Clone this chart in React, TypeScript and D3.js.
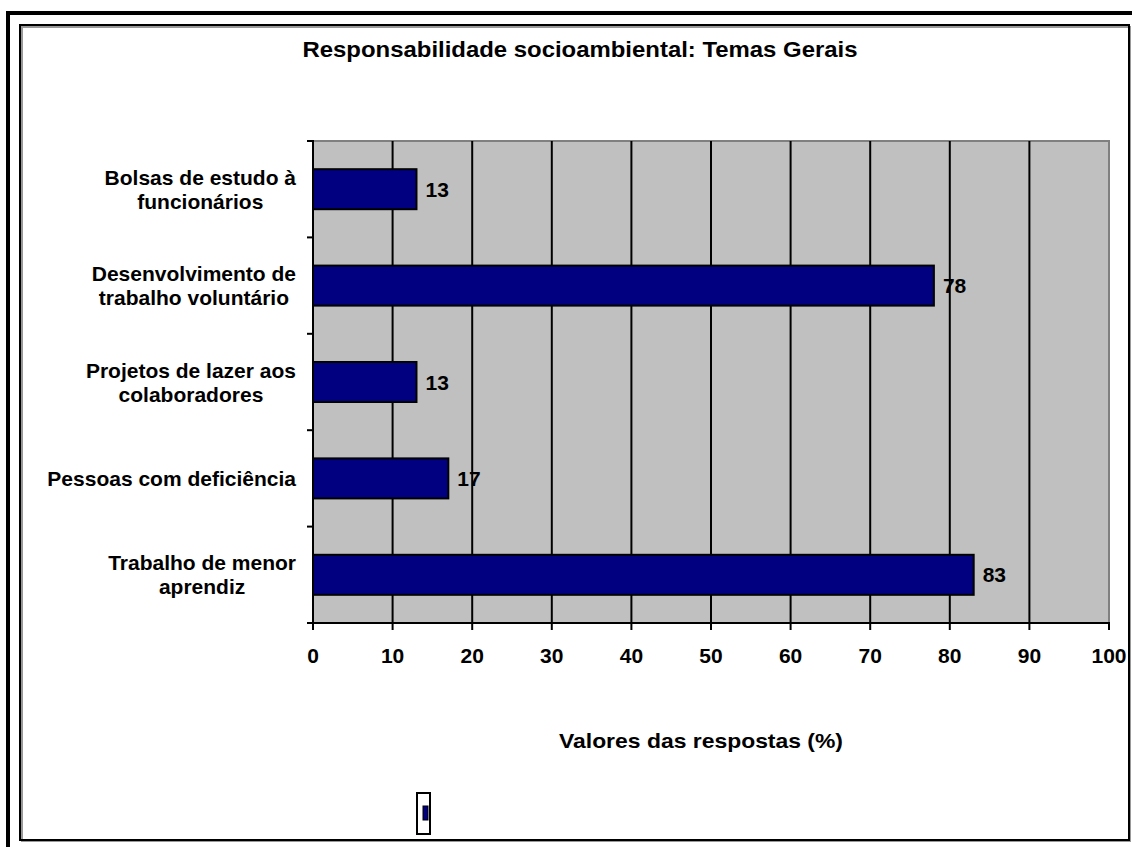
import React from 'react';
import * as d3 from 'd3';

const categories = [
  ['Bolsas de estudo à', 'funcionários'],
  ['Desenvolvimento de', 'trabalho voluntário'],
  ['Projetos de lazer aos', 'colaboradores'],
  ['Pessoas com deficiência'],
  ['Trabalho de menor', 'aprendiz'],
];
const values = [13, 78, 13, 17, 83];
const xTicks = [0, 10, 20, 30, 40, 50, 60, 70, 80, 90, 100];

const title = 'Responsabilidade socioambiental: Temas Gerais';
const xTitle = 'Valores das respostas (%)';

const FONT = "Arial, 'Liberation Sans', sans-serif";
const FS = 21;

let ctx: CanvasRenderingContext2D | null = null;
const measure = (s: string) => {
  if (!ctx) ctx = document.createElement('canvas').getContext('2d');
  if (!ctx) return s.length * FS * 0.6;
  ctx.font = `bold ${FS}px ${FONT}`;
  return ctx.measureText(s).width;
};

const App = () => {
  const left = 313, right = 1109, top = 141, bottom = 623;
  const keys = categories.map((c) => c.join(' '));
  const x = d3.scaleLinear().domain([0, 100]).range([left, right]);
  const y = d3.scaleBand().domain(keys).range([top, bottom]).paddingInner(0.585).paddingOuter(0.2925);
  const step = y.step();
  const boundaries = d3.range(keys.length + 1).map((i) => top + i * step);

  return (
    <svg width={1132} height={847} style={{ position: 'absolute', left: 0, top: 0 }} fontFamily={FONT} fontWeight="bold">
      <rect x={0} y={0} width={1132} height={847} fill="white" />
      {/* outer frame */}
      <path d="M8,847 V13 H1132" fill="none" stroke="black" strokeWidth={4} />
      {/* chart area border */}
      <rect x={21} y={26} width={1108} height={814} fill="none" stroke="#999" strokeWidth={2} transform="translate(1,1)" />
      <rect x={20} y={25} width={1109} height={815} fill="none" stroke="black" strokeWidth={2} />

      <text x={580} y={57} textAnchor="middle" fontSize={22} textLength={555} lengthAdjust="spacingAndGlyphs">{title}</text>

      {/* plot area */}
      <rect x={left} y={top} width={right - left} height={bottom - top} fill="#c0c0c0" />
      <path d={`M${left},${top} H${right} V${bottom}`} fill="none" stroke="#808080" strokeWidth={2} />
      {xTicks.slice(1, -1).map((t) => (
        <line key={t} x1={x(t)} x2={x(t)} y1={top} y2={bottom} stroke="black" strokeWidth={2} />
      ))}

      {keys.map((k, i) => (
        <g key={k}>
          <rect x={x(0)} y={y(k)} width={x(values[i]) - x(0)} height={y.bandwidth()} fill="#000080" stroke="black" strokeWidth={2} />
          <text x={x(values[i]) + 9} y={(y(k) as number) + y.bandwidth() / 2} dy="0.36em" fontSize={FS}>{values[i]}</text>
        </g>
      ))}

      {/* axes */}
      <line x1={left} x2={left} y1={top - 1} y2={bottom + 7} stroke="black" strokeWidth={2} />
      <line x1={left - 6} x2={right + 1} y1={bottom} y2={bottom} stroke="black" strokeWidth={2} />
      {boundaries.map((b, i) => (
        <line key={i} x1={left - 6} x2={left} y1={b} y2={b} stroke="black" strokeWidth={2} />
      ))}
      {xTicks.map((t) => (
        <g key={t}>
          <line x1={x(t)} x2={x(t)} y1={bottom} y2={bottom + 7} stroke="black" strokeWidth={2} />
          <text x={x(t)} y={bottom + 32} dy="0.36em" textAnchor="middle" fontSize={FS}>{t}</text>
        </g>
      ))}

      {categories.map((lines, i) => {
        const w = Math.max(...lines.map(measure));
        const cx = 296 - w / 2;
        const cy = (y(keys[i]) as number) + y.bandwidth() / 2;
        const lh = 24;
        return (
          <text key={i} textAnchor="middle" fontSize={FS}>
            {lines.map((l, j) => (
              <tspan key={j} x={cx} y={cy + (j - (lines.length - 1) / 2) * lh} dy="0.36em">{l}</tspan>
            ))}
          </text>
        );
      })}

      <text x={701} y={748} textAnchor="middle" fontSize={21} textLength={284} lengthAdjust="spacingAndGlyphs">{xTitle}</text>

      {/* leftover legend */}
      <rect x={417} y={793} width={13} height={41} fill="white" stroke="black" strokeWidth={2} />
      <rect x={423} y={806} width={5} height={14} fill="#000080" stroke="black" strokeWidth={1} />
    </svg>
  );
};

export default App;
